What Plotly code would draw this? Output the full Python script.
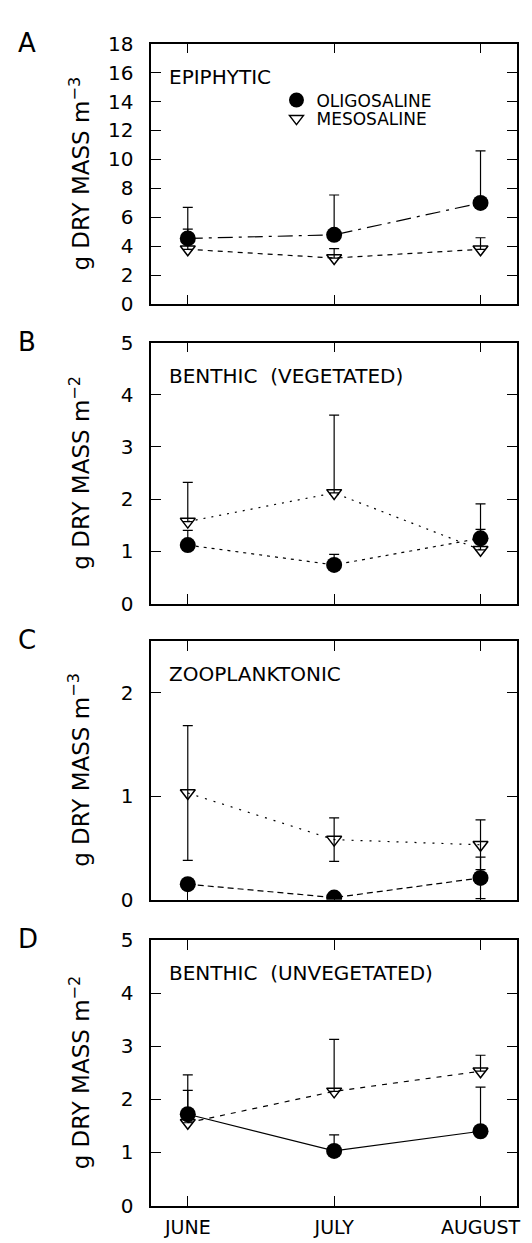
import plotly.graph_objects as go

months = ["JUNE", "JULY", "AUGUST"]
xidx = [0, 1, 2]

panel_letters = ["A", "B", "C", "D"]
panel_titles = ["EPIPHYTIC", "BENTHIC  (VEGETATED)", "ZOOPLANKTONIC", "BENTHIC  (UNVEGETATED)"]
y_titles = ["g DRY MASS m<sup>−3</sup>", "g DRY MASS m<sup>−2</sup>",
            "g DRY MASS m<sup>−3</sup>", "g DRY MASS m<sup>−2</sup>"]
y_ranges = [[0, 18], [0, 5], [0, 2.5], [0, 5]]
y_tickvals = [list(range(0, 19, 2)), [0, 1, 2, 3, 4, 5], [0, 1, 2], [0, 1, 2, 3, 4, 5]]

# mean values
oligo = [[4.55, 4.8, 7.0], [1.12, 0.74, 1.25], [0.15, 0.02, 0.21], [1.72, 1.03, 1.40]]
meso = [[3.8, 3.2, 3.8], [1.57, 2.12, 1.03], [1.03, 0.58, 0.53], [1.56, 2.15, 2.53]]
# error bar (upper) lengths
oligo_err = [[2.15, 2.75, 3.6], [0.28, 0.2, 0.17], [0.0, 0.0, 0.2], [0.45, 0.3, 0.83]]
meso_err = [[1.4, 0.65, 0.8], [0.75, 1.49, 0.88], [0.65, 0.21, 0.24], [0.9, 0.98, 0.3]]
symmetric = [False, False, True, False]

oligo_dash = ["longdashdot", "3px,5px", "6px,4px", "solid"]
meso_dash = ["5px,5px", "2px,6px", "2px,7px", "5px,6px"]

# panel geometry (pixels)
W, H = 532, 1243
x0, x1 = 144, 512
panel_px = [(24, 290), (329, 595), (633, 897), (938, 1209)]

font_family = "DejaVu Sans, sans-serif"

fig = go.Figure()
legend_common = dict(xanchor="left", yanchor="middle", bgcolor="rgba(0,0,0,0)",
                     font=dict(size=17, family=font_family), itemwidth=30,
                     borderwidth=0)
layout = dict(
    width=W, height=H,
    margin=dict(l=0, r=0, t=0, b=0),
    paper_bgcolor="white", plot_bgcolor="white",
    font=dict(family=font_family, color="black"),
    showlegend=True,
    legend=dict(x=270 / W, y=1 - 82 / H, **legend_common),
    legend2=dict(x=270 / W, y=1 - 101 / H, **legend_common),
)
annotations = []

for i in range(4):
    n = "" if i == 0 else str(i + 1)
    xa = "x" + n
    ya = "y" + n
    top, bot = panel_px[i]
    ydom = [1 - bot / H, 1 - top / H]
    axis_common = dict(showline=True, linecolor="black", linewidth=1.5, mirror="ticks",
                       ticks="inside", ticklen=10, tickwidth=1.2, tickcolor="black",
                       showgrid=False, zeroline=False)
    layout["xaxis" + n] = dict(domain=[x0 / W, x1 / W], range=[-0.25, 2.25],
                               tickvals=xidx, ticktext=months,
                               showticklabels=(i == 3), anchor=ya,
                               tickfont=dict(size=19, family=font_family),
                               ticklabelstandoff=4,
                               **axis_common)
    layout["yaxis" + n] = dict(domain=ydom, range=y_ranges[i], tickvals=y_tickvals[i],
                               anchor=xa, tickfont=dict(size=20, family=font_family),
                               ticklabelstandoff=12,
                               **axis_common)

    if symmetric[i]:
        ey_o = dict(type="data", array=oligo_err[i], symmetric=True, color="black",
                    thickness=1.2, width=5)
        ey_m = dict(type="data", array=meso_err[i], symmetric=True, color="black",
                    thickness=1.2, width=5)
    else:
        ey_o = dict(type="data", array=oligo_err[i], arrayminus=[0, 0, 0], symmetric=False,
                    color="black", thickness=1.2, width=5)
        ey_m = dict(type="data", array=meso_err[i], arrayminus=[0, 0, 0], symmetric=False,
                    color="black", thickness=1.2, width=5)

    fig.add_trace(go.Scatter(x=xidx, y=meso[i], mode="lines+markers", xaxis=xa, yaxis=ya,
                             line=dict(color="black", width=1.2, dash=meso_dash[i]),
                             marker=dict(symbol="triangle-down-open", size=13, color="black",
                                         line=dict(width=1.5, color="black")),
                             error_y=ey_m, showlegend=False))
    fig.add_trace(go.Scatter(x=xidx, y=oligo[i], mode="lines+markers", xaxis=xa, yaxis=ya,
                             line=dict(color="black", width=1.2, dash=oligo_dash[i]),
                             marker=dict(symbol="circle", size=16, color="black"),
                             error_y=ey_o, showlegend=False))

    annotations.append(dict(text=panel_letters[i], x=8 / W, y=1 - (top - 1) / H,
                            xref="paper", yref="paper", xanchor="left", yanchor="middle",
                            showarrow=False, font=dict(size=26, family=font_family)))
    annotations.append(dict(text=panel_titles[i], x=160 / W, y=1 - (top + 34) / H,
                            xref="paper", yref="paper", xanchor="left", yanchor="middle",
                            showarrow=False, font=dict(size=20, family=font_family)))
    annotations.append(dict(text=y_titles[i], x=72 / W, y=1 - (top + bot) / 2 / H,
                            xref="paper", yref="paper", xanchor="center", yanchor="middle",
                            textangle=-90, showarrow=False,
                            font=dict(size=23, family=font_family)))

# legend entries (panel A)
fig.add_trace(go.Scatter(x=[None], y=[None], mode="markers", name="OLIGOSALINE",
                         legend="legend",
                         marker=dict(symbol="circle", size=15, color="black")))
fig.add_trace(go.Scatter(x=[None], y=[None], mode="markers", name="MESOSALINE",
                         legend="legend2",
                         marker=dict(symbol="triangle-down-open", size=12, color="black",
                                     line=dict(width=1.5, color="black"))))

layout["annotations"] = annotations
fig.update_layout(**layout)
fig.write_html("out.html")
